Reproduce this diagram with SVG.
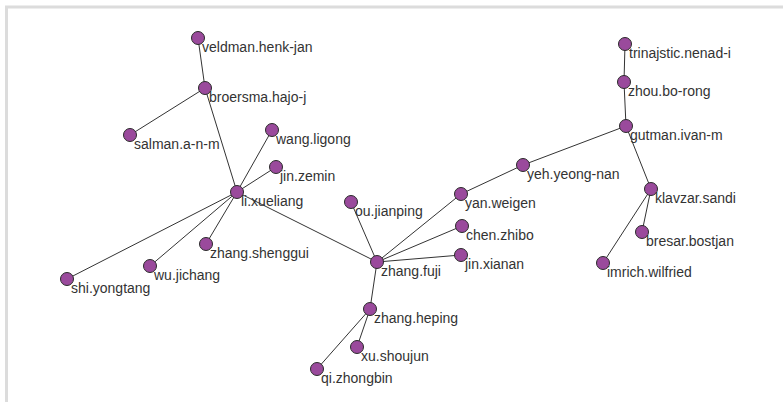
<svg xmlns="http://www.w3.org/2000/svg" width="783" height="402" viewBox="0 0 783 402">
  <style>
    .frame { fill: #ffffff; stroke: #dcdcdc; stroke-width: 3; }
    .edge { stroke: #333333; stroke-width: 1; fill: none; }
    .node circle { fill: #9a4a9c; stroke: #2a2a2a; stroke-width: 1; }
    .node text { font-family: "Liberation Sans", Arial, Helvetica, sans-serif; font-size: 14px; fill: #333333; }
  </style>
  <rect width="783" height="402" fill="#ffffff"/>
  <rect class="frame" x="6.5" y="7" width="800" height="420"/>

  <g id="connectors">
    <line class="edge" x1="198" y1="38" x2="205" y2="88"/>
    <line class="edge" x1="205" y1="88" x2="130" y2="135"/>
    <line class="edge" x1="205" y1="88" x2="237" y2="192"/>
    <line class="edge" x1="237" y1="192" x2="272" y2="130"/>
    <line class="edge" x1="237" y1="192" x2="276" y2="167"/>
    <line class="edge" x1="237" y1="192" x2="67" y2="279"/>
    <line class="edge" x1="237" y1="192" x2="150" y2="266"/>
    <line class="edge" x1="237" y1="192" x2="206" y2="244"/>
    <line class="edge" x1="237" y1="192" x2="377" y2="262"/>
    <line class="edge" x1="377" y1="262" x2="351" y2="202"/>
    <line class="edge" x1="377" y1="262" x2="461" y2="194"/>
    <line class="edge" x1="377" y1="262" x2="462" y2="226"/>
    <line class="edge" x1="377" y1="262" x2="461" y2="255"/>
    <line class="edge" x1="377" y1="262" x2="370" y2="309"/>
    <line class="edge" x1="370" y1="309" x2="357" y2="347"/>
    <line class="edge" x1="370" y1="309" x2="317" y2="369"/>
    <line class="edge" x1="461" y1="194" x2="523" y2="165"/>
    <line class="edge" x1="523" y1="165" x2="626" y2="126"/>
    <line class="edge" x1="626" y1="126" x2="624" y2="82"/>
    <line class="edge" x1="624" y1="82" x2="625" y2="44"/>
    <line class="edge" x1="626" y1="126" x2="651" y2="189"/>
    <line class="edge" x1="651" y1="189" x2="642" y2="232"/>
    <line class="edge" x1="651" y1="189" x2="603" y2="263"/>
  </g>

  <g id="veldman-henk-jan" class="node"><circle cx="198" cy="38" r="6.5"/><text x="202" y="52">veldman.henk-jan</text></g>
  <g id="broersma-hajo-j" class="node"><circle cx="205" cy="88" r="6.5"/><text x="209" y="102">broersma.hajo-j</text></g>
  <g id="salman-a-n-m" class="node"><circle cx="130" cy="135" r="6.5"/><text x="134" y="149">salman.a-n-m</text></g>
  <g id="wang-ligong" class="node"><circle cx="272" cy="130" r="6.5"/><text x="276" y="144">wang.ligong</text></g>
  <g id="jin-zemin" class="node"><circle cx="276" cy="167" r="6.5"/><text x="280" y="181">jin.zemin</text></g>
  <g id="li-xueliang" class="node"><circle cx="237" cy="192" r="6.5"/><text x="241" y="206">li.xueliang</text></g>
  <g id="ou-jianping" class="node"><circle cx="351" cy="202" r="6.5"/><text x="355" y="216">ou.jianping</text></g>
  <g id="zhang-shenggui" class="node"><circle cx="206" cy="244" r="6.5"/><text x="210" y="258">zhang.shenggui</text></g>
  <g id="wu-jichang" class="node"><circle cx="150" cy="266" r="6.5"/><text x="154" y="280">wu.jichang</text></g>
  <g id="shi-yongtang" class="node"><circle cx="67" cy="279" r="6.5"/><text x="71" y="293">shi.yongtang</text></g>
  <g id="zhang-fuji" class="node"><circle cx="377" cy="262" r="6.5"/><text x="381" y="276">zhang.fuji</text></g>
  <g id="zhang-heping" class="node"><circle cx="370" cy="309" r="6.5"/><text x="374" y="323">zhang.heping</text></g>
  <g id="xu-shoujun" class="node"><circle cx="357" cy="347" r="6.5"/><text x="361" y="361">xu.shoujun</text></g>
  <g id="qi-zhongbin" class="node"><circle cx="317" cy="369" r="6.5"/><text x="321" y="383">qi.zhongbin</text></g>
  <g id="yan-weigen" class="node"><circle cx="461" cy="194" r="6.5"/><text x="465" y="208">yan.weigen</text></g>
  <g id="chen-zhibo" class="node"><circle cx="462" cy="226" r="6.5"/><text x="466" y="240">chen.zhibo</text></g>
  <g id="jin-xianan" class="node"><circle cx="461" cy="255" r="6.5"/><text x="465" y="269">jin.xianan</text></g>
  <g id="yeh-yeong-nan" class="node"><circle cx="523" cy="165" r="6.5"/><text x="527" y="179">yeh.yeong-nan</text></g>
  <g id="gutman-ivan-m" class="node"><circle cx="626" cy="126" r="6.5"/><text x="630" y="140">gutman.ivan-m</text></g>
  <g id="zhou-bo-rong" class="node"><circle cx="624" cy="82" r="6.5"/><text x="628" y="96">zhou.bo-rong</text></g>
  <g id="trinajstic-nenad-i" class="node"><circle cx="625" cy="44" r="6.5"/><text x="629" y="58">trinajstic.nenad-i</text></g>
  <g id="klavzar-sandi" class="node"><circle cx="651" cy="189" r="6.5"/><text x="655" y="203">klavzar.sandi</text></g>
  <g id="bresar-bostjan" class="node"><circle cx="642" cy="232" r="6.5"/><text x="646" y="246">bresar.bostjan</text></g>
  <g id="imrich-wilfried" class="node"><circle cx="603" cy="263" r="6.5"/><text x="607" y="277">imrich.wilfried</text></g>
</svg>
